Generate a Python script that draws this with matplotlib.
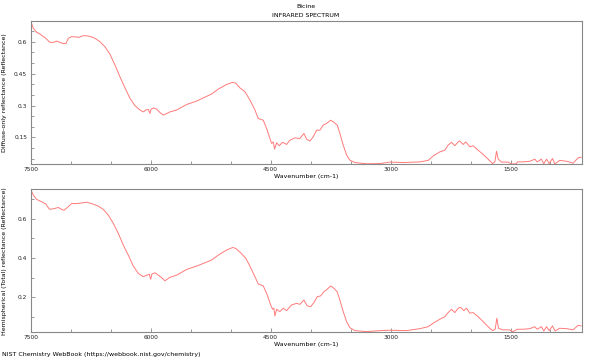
import matplotlib
matplotlib.use('Agg')
import matplotlib.pyplot as plt
from matplotlib.ticker import MultipleLocator, FuncFormatter

# spectrum, wavenumber (cm-1) vs reflectance
diffuse_wn = [7500, 7467, 7425, 7384, 7321, 7259, 7217, 7175, 7134, 7092, 7059, 7030,
              6988, 6925, 6892, 6850, 6800, 6750, 6696, 6634, 6571, 6509, 6446, 6384,
              6321, 6259, 6196, 6134, 6092, 6059, 6030, 6009, 5996, 5967, 5925, 5884,
              5842, 5759, 5675, 5550, 5425, 5342, 5238, 5155, 5050, 4975, 4934, 4884,
              4821, 4759, 4696, 4655, 4592, 4550, 4509, 4488, 4467, 4450, 4425, 4392,
              4350, 4300, 4259, 4196, 4134, 4084, 4050, 4009, 3967, 3925, 3884, 3842,
              3800, 3750, 3709, 3667, 3634, 3592, 3550, 3509, 3446, 3300, 3134, 3009,
              2842, 2634, 2530, 2467, 2384, 2321, 2280, 2238, 2196, 2155, 2134, 2092,
              2059, 2009, 1967, 1905, 1842, 1780, 1725, 1696, 1675, 1655, 1613, 1530,
              1488, 1425, 1417, 1342, 1259, 1196, 1167, 1113, 1084, 1050, 1017, 975,
              946, 884, 800, 717, 655, 617]
diffuse_r = [0.697, 0.663, 0.644, 0.636, 0.619, 0.597, 0.597, 0.603, 0.597, 0.591, 0.592, 0.616,
             0.624, 0.622, 0.621, 0.628, 0.628, 0.624, 0.616, 0.600, 0.576, 0.541, 0.490, 0.435,
             0.383, 0.334, 0.299, 0.279, 0.270, 0.279, 0.282, 0.263, 0.282, 0.289, 0.283, 0.267,
             0.255, 0.270, 0.279, 0.305, 0.321, 0.336, 0.354, 0.377, 0.399, 0.409, 0.404, 0.383,
             0.365, 0.326, 0.279, 0.239, 0.231, 0.192, 0.145, 0.122, 0.129, 0.095, 0.125, 0.111,
             0.127, 0.117, 0.137, 0.148, 0.145, 0.169, 0.142, 0.133, 0.153, 0.184, 0.184, 0.208,
             0.216, 0.231, 0.221, 0.208, 0.169, 0.114, 0.067, 0.043, 0.032, 0.026, 0.027, 0.034,
             0.032, 0.035, 0.042, 0.063, 0.082, 0.090, 0.114, 0.127, 0.111, 0.129, 0.133, 0.117,
             0.129, 0.106, 0.111, 0.090, 0.070, 0.048, 0.027, 0.035, 0.085, 0.049, 0.034, 0.034,
             0.025, 0.026, 0.035, 0.035, 0.038, 0.048, 0.035, 0.048, 0.026, 0.048, 0.027, 0.051,
             0.026, 0.042, 0.038, 0.029, 0.054, 0.057]

total_wn = [7500, 7467, 7425, 7363, 7309, 7267, 7217, 7155, 7113, 7084, 7042, 6988,
            6925, 6863, 6800, 6738, 6655, 6592, 6530, 6467, 6405, 6342, 6280, 6217,
            6155, 6092, 6050, 6017, 6000, 5984, 5946, 5905, 5863, 5821, 5759, 5675,
            5550, 5425, 5321, 5238, 5155, 5050, 4975, 4934, 4875, 4809, 4759, 4696,
            4655, 4592, 4542, 4500, 4475, 4459, 4446, 4425, 4384, 4342, 4300, 4238,
            4175, 4134, 4084, 4042, 4000, 3959, 3917, 3875, 3834, 3792, 3750, 3709,
            3667, 3634, 3592, 3550, 3509, 3446, 3300, 3134, 3009, 2800, 2634, 2530,
            2467, 2384, 2321, 2280, 2238, 2196, 2155, 2125, 2084, 2050, 2009, 1967,
            1905, 1842, 1780, 1725, 1692, 1671, 1650, 1600, 1517, 1467, 1417, 1342,
            1259, 1196, 1167, 1113, 1084, 1050, 1017, 975, 942, 884, 800, 717,
            655, 617]
total_r = [0.750, 0.721, 0.699, 0.687, 0.675, 0.649, 0.651, 0.658, 0.648, 0.644, 0.658, 0.678,
           0.678, 0.681, 0.685, 0.678, 0.665, 0.648, 0.619, 0.577, 0.526, 0.466, 0.415, 0.359,
           0.322, 0.305, 0.313, 0.317, 0.292, 0.319, 0.325, 0.313, 0.300, 0.284, 0.302, 0.313,
           0.342, 0.359, 0.376, 0.390, 0.415, 0.441, 0.454, 0.449, 0.427, 0.398, 0.359, 0.305,
           0.268, 0.258, 0.212, 0.161, 0.139, 0.144, 0.105, 0.139, 0.127, 0.144, 0.132, 0.161,
           0.169, 0.164, 0.186, 0.156, 0.152, 0.173, 0.203, 0.207, 0.228, 0.241, 0.258, 0.246,
           0.228, 0.186, 0.127, 0.076, 0.045, 0.030, 0.025, 0.030, 0.032, 0.030, 0.040, 0.050,
           0.068, 0.088, 0.101, 0.122, 0.139, 0.122, 0.144, 0.149, 0.132, 0.144, 0.119, 0.122,
           0.101, 0.076, 0.050, 0.030, 0.037, 0.093, 0.042, 0.034, 0.034, 0.025, 0.037, 0.037,
           0.040, 0.050, 0.037, 0.050, 0.028, 0.050, 0.030, 0.054, 0.028, 0.042, 0.040, 0.034,
           0.057, 0.054]

LINE = '#ff7a7a'
SPINE = '#888888'
FS = 4.5        # titles / axis labels
TICK_FS = 4.2   # tick labels


def style_axes(ax, ylim, ymajor, yminor, ylabel):
    ax.set_xlim(7500, 612)
    ax.set_ylim(*ylim)
    ax.xaxis.set_major_locator(MultipleLocator(1500))
    ax.xaxis.set_minor_locator(MultipleLocator(500))
    ax.yaxis.set_major_locator(MultipleLocator(ymajor))
    ax.yaxis.set_minor_locator(MultipleLocator(yminor))
    ax.yaxis.set_major_formatter(FuncFormatter(lambda v, p: '%g' % round(v, 3)))
    ax.tick_params(which='both', direction='in', labelsize=TICK_FS, colors=SPINE,
                   labelcolor='#222222', top=False, right=False, width=0.6)
    ax.tick_params(which='major', length=3, pad=2.5)
    ax.tick_params(which='minor', length=2)
    for s in ax.spines.values():
        s.set_color(SPINE)
        s.set_linewidth(0.8)
    ax.set_xlabel('Wavenumber (cm-1)', fontsize=FS, labelpad=1)
    ax.set_ylabel(ylabel, fontsize=FS)
    ax.yaxis.set_label_coords(-0.043, 0.5)


fig = plt.figure(figsize=(6, 3.6), dpi=100)
ax1 = fig.add_axes([0.0512, 0.5444, 0.918, 0.397])
ax2 = fig.add_axes([0.0512, 0.0778, 0.918, 0.396])

ax1.plot(diffuse_wn, diffuse_r, color=LINE, lw=0.7)
style_axes(ax1, (0.025, 0.697), 0.15, 0.05, 'Diffuse-only reflectance (Reflectance)')

ax2.plot(total_wn, total_r, color=LINE, lw=0.7)
style_axes(ax2, (0.023, 0.75), 0.2, 0.1, 'Hemispherical (Total) reflectance (Reflectance)')

fig.text(0.51, 0.983, 'Bicine', ha='center', va='center', fontsize=FS)
fig.text(0.51, 0.958, 'INFRARED SPECTRUM', ha='center', va='center', fontsize=FS)
fig.text(0.004, 0.014, 'NIST Chemistry WebBook (https://webbook.nist.gov/chemistry)',
         ha='left', va='center', fontsize=FS)

fig.savefig('out.png', dpi=100)
